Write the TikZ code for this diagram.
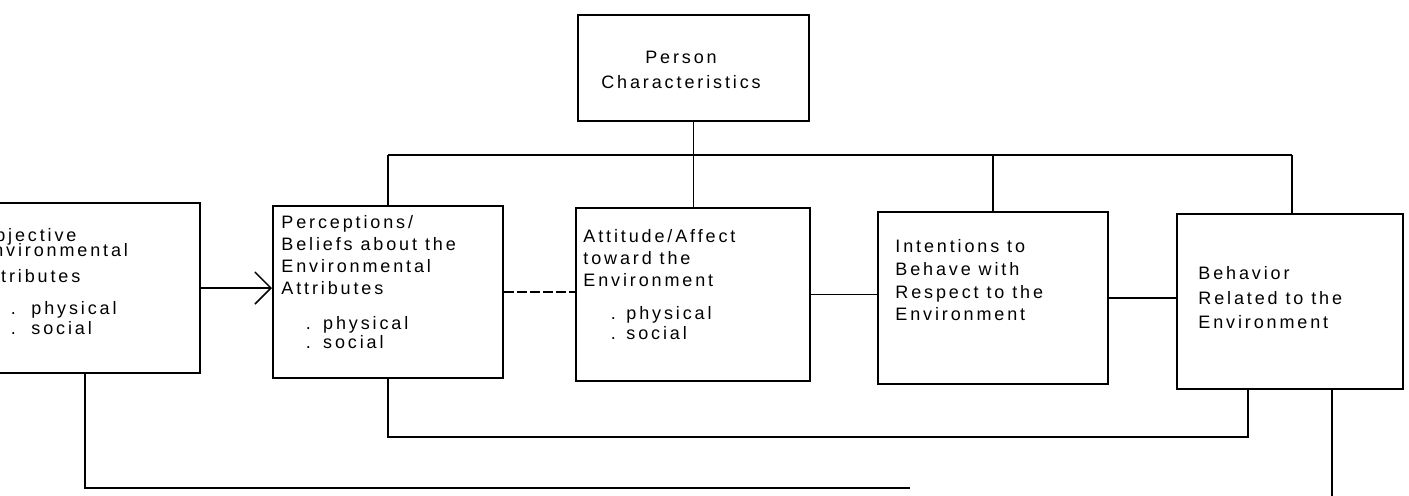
\documentclass[tikz,border=0pt]{standalone}
\usepackage{fontspec}
\setmainfont{Liberation Sans}[LetterSpace=16]
\usetikzlibrary{arrows.meta}
\newcommand\bxt[1]{\parbox[t]{140pt}{\raggedright\fontsize{9}{11}\selectfont #1}}
\newcommand\bul[3]{\hspace*{#1}.\hspace{#2}#3}
\tikzset{
  box/.style={draw, line width=1pt, inner sep=0pt, rectangle},
  txt/.style={inner sep=0pt, anchor=base west},
  link/.style={line width=0.75pt},
}
\begin{document}
\begin{tikzpicture}[x=0.5pt,y=-0.5pt]
\clip (0,0) rectangle (1409,495);
% boxes
\node[box, minimum width=109.5pt, minimum height=85pt]   (obj)    at (90.5,288) {};
\node[box, minimum width=115.5pt, minimum height=53pt]   (person) at (693.5,68) {};
\node[box, minimum width=115pt,   minimum height=86pt]   (perc)   at (388,292) {};
\node[box, minimum width=117pt,   minimum height=86.5pt] (att)    at (693,294.5) {};
\node[box, minimum width=115pt,   minimum height=86pt]   (int)    at (993,298) {};
\node[box, minimum width=113pt,   minimum height=87.5pt] (beh)    at (1290,301.5) {};
% texts
\node[inner sep=0pt, anchor=base] (personT) at (681,63)
  {\parbox[t]{120pt}{\centering\fontsize{9}{11}\selectfont Person\\[1.5pt]Characteristics}};
\node[txt] (objT) at (-22,241)
  {\bxt{Objective\\[-3.5pt]Environmental\\[2pt]Attributes\\[5pt]\bul{16.2pt}{7.8pt}{physical}\\[-1pt]\bul{16.2pt}{7.8pt}{social}}};
\node[txt] (percT) at (281,228)
  {\bxt{Perceptions/\\Beliefs about the\\Environmental\\Attributes\\[6.5pt]\bul{12.2pt}{6.2pt}{physical}\\[-1.5pt]\bul{12.2pt}{6.2pt}{social}}};
\node[txt] (attT) at (583,242)
  {\bxt{Attitude/Affect\\toward the\\Environment\\[5.5pt]\bul{13.7pt}{5.3pt}{physical}\\[-1pt]\bul{13.7pt}{5.3pt}{social}}};
\node[txt] (intT) at (895,252)
  {\bxt{Intentions to\\[0.5pt]Behave with\\[0.5pt]Respect to the\\Environment}};
\node[txt] (behT) at (1198,279)
  {\bxt{Behavior\\[1.5pt]Related to the\\[1pt]Environment}};
% bus from person characteristics
\coordinate (busL) at (388,155);
\coordinate (busR) at (1292,155);
\draw[link] (busL) -- (busR);
\draw[link] (person.south) -- (person.south |- att.north);
\draw[link] (perc.north) -- (perc.north |- busL);
\draw[link] (int.north) -- (int.north |- busL);
\draw[link] (busR) -- (busR |- beh.north);
% chain
\draw[link, -{Straight Barb[length=8pt,width=16pt,line width=0.75pt]}] (obj.east) -- (perc.west |- obj.east);
\draw[link, dash pattern=on 5pt off 1.5pt] (perc.east) -- (att.west |- perc.east);
\draw[link] (att.east) -- (int.west |- att.east);
\draw[link] (int.east) -- (beh.west |- int.east);
% feedback loops
\coordinate (loopA) at (388,437);
\coordinate (loopB) at (1248,437);
\draw[link] (perc.south) -- (loopA) -- (loopB) -- (loopB |- beh.south);
\coordinate (fbA) at (85,488);
\coordinate (fbB) at (910,488);
\draw[link] (fbA |- obj.south) -- (fbA) -- (fbB);
\coordinate (fbC) at (1332,496);
\draw[link] (fbC |- beh.south) -- (fbC);
\end{tikzpicture}
\end{document}
